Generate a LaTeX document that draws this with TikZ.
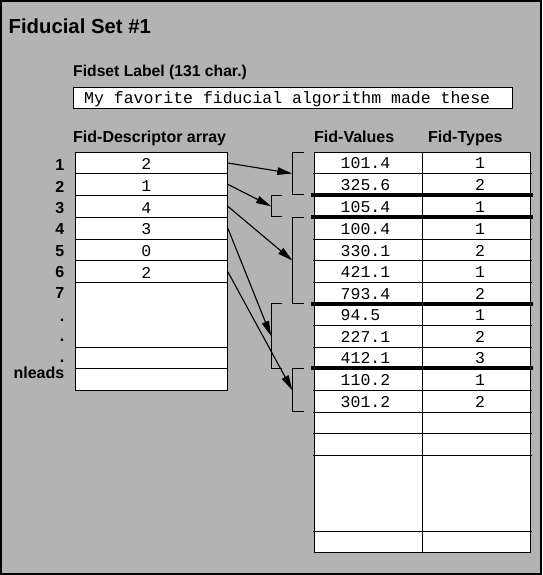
\documentclass[tikz,border=0pt]{standalone}
\usepackage{fontspec}
\setmainfont{Liberation Sans}
\newfontfamily\monofam{Liberation Mono}
\usetikzlibrary{arrows.meta}
\definecolor{bggray}{RGB}{179,179,179}
\begin{document}
\begin{tikzpicture}[x=1pt,y=-1pt,
  title/.style={inner sep=0pt, anchor=base west, font=\bfseries\fontsize{20.3}{22}\selectfont},
  lbl/.style={inner sep=0pt, anchor=base west, font=\bfseries\fontsize{16}{18}\selectfont},
  rowlbl/.style={inner sep=0pt, anchor=base east, font=\bfseries\fontsize{16}{18}\selectfont},
  mono/.style={inner sep=0pt, anchor=base, font=\monofam\fontsize{16.5}{18}\selectfont},
  monol/.style={mono, anchor=base west},
  cell/.style={draw=black, line width=1pt, fill=white, inner sep=0pt, minimum width=152.3pt},
  thinline/.style={line width=1pt},
  sepline/.style={line width=4pt},
  brk/.style={line width=1pt},
  ptr/.style={line width=1.1pt, -{Triangle[length=15pt,width=7.5pt]}}]

\useasboundingbox (0,0) rectangle (542,575);
\fill[bggray] (0,0) rectangle (542,575);
\draw[line width=2pt] (1,1) rectangle (541,574);

% titles
\node[title] (ttl) at (8.5,33.3) {Fiducial Set \#1};
\node[lbl, font=\bfseries\fontsize{15.7}{18}\selectfont] (fsl) at (73,77) {Fidset Label (131 char.)};
\node[draw=black, line width=1pt, fill=white, inner sep=0pt, minimum width=439pt, minimum height=21pt, anchor=north west] (lbox) at (73,87) {};
\node[monol] (ltext) at (84,104) {My favorite fiducial algorithm made these};
\node[lbl] (hd) at (73,142.5) {Fid-Descriptor array};
\node[lbl] (hv) at (314,142.5) {Fid-Values};
\node[lbl] (ht) at (428,142.5) {Fid-Types};

% descriptor array
\foreach \n/\t/\b in {d1/152.7/173.3, d2/173.3/195.3, d3/195.3/217.3, d4/217.3/239, d5/239/260.7, d6/260.7/282.7, d7/282.7/347.3, d8/347.3/368.7, d9/368.7/390}
  \node[cell, minimum height={(\b-\t)*1pt}] (\n) at (151.15,{(\t+\b)/2}) {};
\foreach \n/\v/\b in {dv1/2/173.3, dv2/1/195.3, dv3/4/217.3, dv4/3/239, dv5/0/260.7, dv6/2/282.7}
  \node[mono] (\n) at (146.3,\b-4.3) {\v};

% row labels
\foreach \n/\v/\y in {r1/1/170.7, r2/2/192, r3/3/213.3, r4/4/234.6, r5/5/256, r6/6/277.3, r7/7/298.6, r8/./321, r9/./341.7, r10/./362.7, r11/nleads/378.3}
  \node[rowlbl] (\n) at (64.5,\y) {\v};

% values table
\fill[white] (314,152.7) rectangle (530,552.3);
\draw[thinline] (314,152.7) rectangle (530,552.3);
\foreach \y in {173.3, 239, 260.7, 282.3, 325.3, 347, 390, 412, 433.3, 455, 531}
  \draw[thinline] (313,\y) -- (531.5,\y);
\draw[thinline] (422.3,152.7) -- (422.3,553.3);
\foreach \y in {195.3, 217.3, 303.7, 368.3}
  \draw[sepline] (311,\y) -- (532.7,\y);

\foreach \n/\v/\t/\b in {1/101.4/1/173.3, 2/325.6/2/195.3, 3/105.4/1/217.3, 4/100.4/1/239, 5/330.1/2/260.7, 6/421.1/1/282.3, 7/793.4/2/303.7, 8/94.5/1/325.3, 9/227.1/2/347, 10/412.1/3/368.3, 11/110.2/1/390, 12/301.2/2/412}
{
  \node[monol] (v\n) at (340.5,\b-4.5) {\v};
  \node[mono] (t\n) at (480,\b-4.5) {\t};
}

% brackets
\draw[brk] (304,152.7) -- (292.3,152.7) -- (292.3,194.3) -- (304,194.3);
\draw[brk] (282.3,195.8) -- (271,195.8) -- (271,216.7) -- (282.3,216.7);
\draw[brk] (304,217.8) -- (292.3,217.8) -- (292.3,303.3) -- (304,303.3);
\draw[brk] (282.3,303.7) -- (271,303.7) -- (271,368.3) -- (282.3,368.3);
\draw[brk] (304,368.8) -- (292.3,368.8) -- (292.3,411.7) -- (304,411.7);
\coordinate (b1) at (292.3,173.5);
\coordinate (b2) at (271,206.3);
\coordinate (b3) at (292.3,260.5);
\coordinate (b4) at (271,336);
\coordinate (b5) at (292.3,390.2);

% pointers
\draw[ptr] (d1.east) -- (b1);
\draw[ptr] (d2.east) -- (b2);
\draw[ptr] (d3.east) -- (b3);
\draw[ptr] (d4.east) -- (b4);
\draw[ptr] (d6.east) -- (b5);
\end{tikzpicture}
\end{document}
